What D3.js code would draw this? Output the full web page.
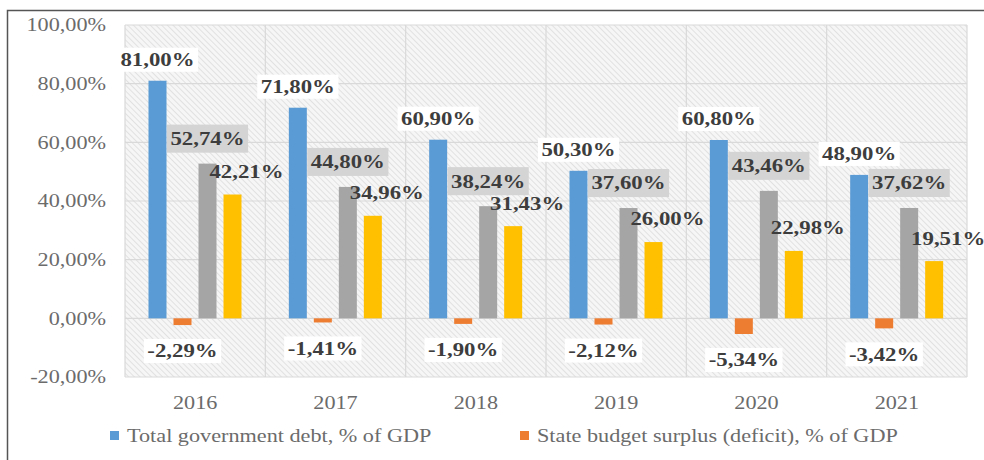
<!DOCTYPE html>
<html>
<head>
<meta charset="utf-8">
<script src="https://cdn.jsdelivr.net/npm/d3@7"></script>
<style>
  body { margin: 0; background: #fff; }
  text { font-family: "Liberation Serif", "Times New Roman", serif; }
</style>
</head>
<body>
<svg id="chart" width="984" height="460"></svg>
<script>
var years = ["2016", "2017", "2018", "2019", "2020", "2021"]
var seriesNames = ["Total government debt, % of GDP",
                   "State budget surplus (deficit), % of GDP",
                   "Series 3", "Series 4"]
var debtValues = [81.00, 71.80, 60.90, 50.30, 60.80, 48.90]
var budgetValues = [-2.29, -1.41, -1.90, -2.12, -5.34, -3.42]
var grayValues = [52.74, 44.80, 38.24, 37.60, 43.46, 37.62]
var yellowValues = [42.21, 34.96, 31.43, 26.00, 22.98, 19.51]
var yTicks = [-20, 0, 20, 40, 60, 80, 100]

var colors = ["#5b9bd5", "#ed7d31", "#a5a5a5", "#ffc000"]
var stretch = 1.17

var svg = d3.select("#chart")
var plotLeft = 125, plotRight = 967, plotTop = 25, plotBottom = 377

var locale = d3.formatLocale({decimal: ",", thousands: " ", grouping: [3], currency: ["", ""], minus: "-"})
var fmt = locale.format(".2f")

// hatch pattern of the plot area
var defs = svg.append("defs")
var pat = defs.append("pattern")
    .attr("id", "hatch")
    .attr("patternUnits", "userSpaceOnUse")
    .attr("width", 4).attr("height", 4)
    .attr("patternTransform", "rotate(-45)")
pat.append("rect").attr("width", 4).attr("height", 4).attr("fill", "#f6f6f6")
pat.append("line").attr("x1", 0).attr("y1", 0).attr("x2", 0).attr("y2", 4)
    .attr("stroke", "#d6d6d6").attr("stroke-width", 1.3)

// outer frame
svg.append("rect")
    .attr("x", 7.5).attr("y", 10.5)
    .attr("width", 1100).attr("height", 600)
    .attr("fill", "none").attr("stroke", "#555").attr("stroke-width", 1.5)

var y = d3.scaleLinear().domain([-20, 100]).range([plotBottom, plotTop])
var x0 = d3.scaleBand().domain(years).range([plotLeft, plotRight])
var x1 = d3.scaleBand().domain(d3.range(4)).range([20, 120])
    .paddingInner(0.28).paddingOuter(0.14)

svg.append("rect")
    .attr("x", plotLeft).attr("y", plotTop)
    .attr("width", plotRight - plotLeft).attr("height", plotBottom - plotTop)
    .attr("fill", "url(#hatch)")

// grid
svg.append("g").selectAll("line")
    .data(yTicks)
    .enter().append("line")
    .attr("x1", plotLeft).attr("x2", plotRight)
    .attr("y1", function(d){ return y(d) }).attr("y2", function(d){ return y(d) })
    .attr("stroke", "#d9d9d9").attr("stroke-width", 1.2)

svg.append("g").selectAll("line")
    .data(years.concat(["end"]))
    .enter().append("line")
    .attr("x1", function(d, i){ return plotLeft + i * x0.step() })
    .attr("x2", function(d, i){ return plotLeft + i * x0.step() })
    .attr("y1", plotTop).attr("y2", plotBottom)
    .attr("stroke", "#d9d9d9").attr("stroke-width", 1.2)

function stretchedText(g, tx, ty, str, opts) {
    var grp = g.append("g").attr("transform", "translate(" + tx + "," + ty + ") scale(" + stretch + ",1)")
    var t = grp.append("text")
        .attr("text-anchor", opts.anchor || "middle")
        .attr("dominant-baseline", "central")
        .attr("font-size", opts.size)
        .attr("font-weight", opts.weight || "normal")
        .attr("fill", opts.color)
        .text(str)
    if (opts.box) {
        var bb = t.node().getBBox()
        grp.insert("rect", "text")
            .attr("x", bb.x - 3).attr("y", bb.y - opts.padY)
            .attr("width", bb.width + 6).attr("height", bb.height + 2 * opts.padY)
            .attr("fill", opts.box)
    }
    return grp
}

// y axis labels
var yAxisG = svg.append("g")
yTicks.forEach(function(d){
    stretchedText(yAxisG, 106, y(d), fmt(d) + "%", {anchor: "end", size: 19, color: "#6b6b6b"})
})

// x axis labels
var xAxisG = svg.append("g")
years.forEach(function(d){
    stretchedText(xAxisG, x0(d) + x0.bandwidth() / 2, 403, d, {size: 19, color: "#6b6b6b"})
})

// bars
var table = years.map(function(yr, i){
    return [debtValues[i], budgetValues[i], grayValues[i], yellowValues[i]]
})

var groups = svg.append("g").selectAll("g")
    .data(table)
    .enter().append("g")
    .attr("transform", function(d, i){ return "translate(" + x0(years[i]) + ",0)" })

groups.selectAll("rect")
    .data(function(d){ return d.map(function(v, k){ return [k, v] }) })
    .enter().append("rect")
    .attr("x", function(d){ return x1(d[0]) })
    .attr("y", function(d){ return y(Math.max(0, d[1])) })
    .attr("width", x1.bandwidth())
    .attr("height", function(d){ return Math.abs(y(d[1]) - y(0)) })
    .attr("fill", function(d){ return colors[d[0]] })

// data labels
var labelG = svg.append("g")
var labelColor = "#3d3d3d"
years.forEach(function(yr, i){
    var bx = function(k){ return x0(yr) + x1(k) + x1.bandwidth() / 2 }
    stretchedText(labelG, bx(2), y(grayValues[i]) - 25, fmt(grayValues[i]) + "%",
                  {size: 19.5, weight: "bold", color: labelColor, box: "#d4d4d4", padY: 3})
})
years.forEach(function(yr, i){
    var bx = function(k){ return x0(yr) + x1(k) + x1.bandwidth() / 2 }
    stretchedText(labelG, bx(0), y(debtValues[i]) - 21, fmt(debtValues[i]) + "%",
                  {size: 19.5, weight: "bold", color: labelColor, box: "#ffffff", padY: 1})
    stretchedText(labelG, bx(1), y(budgetValues[i]) + 26, fmt(budgetValues[i]) + "%",
                  {size: 19.5, weight: "bold", color: labelColor, box: "#ffffff", padY: 1})
    stretchedText(labelG, bx(3) + 14, y(yellowValues[i]) - 23, fmt(yellowValues[i]) + "%",
                  {size: 19.5, weight: "bold", color: labelColor})
})

// legend
var legendX = [110, 520]
var legend = svg.append("g")
legendX.forEach(function(lx, k){
    legend.append("rect")
        .attr("x", lx).attr("y", 431)
        .attr("width", 9).attr("height", 9)
        .attr("fill", colors[k])
    stretchedText(legend, lx + 17, 436, seriesNames[k], {anchor: "start", size: 19, color: "#6b6b6b"})
})
</script>
</body>
</html>
